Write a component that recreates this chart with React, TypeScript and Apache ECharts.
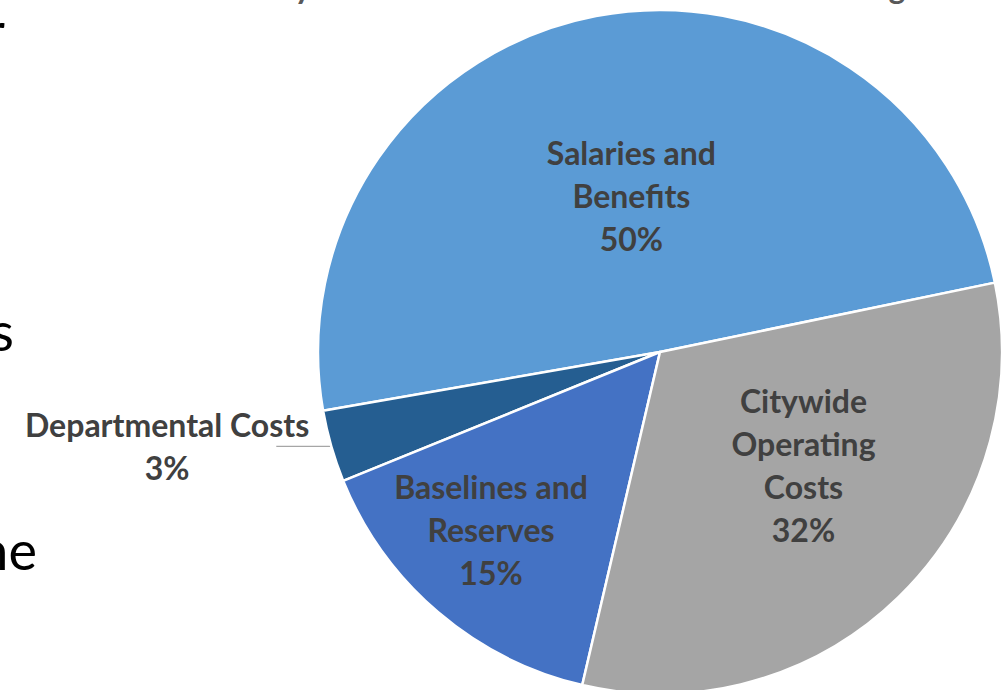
import React, { useEffect, useRef } from 'react';
import * as echarts from 'echarts';

// Slices, in counter-clockwise order starting at the right-hand boundary
const categories = ['Salaries and\nBenefits', 'Departmental Costs', 'Baselines and\nReserves', 'Citywide\nOperating\nCosts'];
const values = [49.5, 3.4, 15.2, 31.9];
const sliceColors = ['#5B9BD5', '#255E91', '#4472C4', '#A5A5A5'];

// Fragments of the slide text around the chart (cut off by the crop)
const sideTexts = ['r', 's', 'ne'];
const titleFragments = ['y', 'g'];

const LABEL_FONT = 'Lato, "Open Sans", "Noto Sans", sans-serif';

export default function App() {
  const ref = useRef<HTMLDivElement>(null);

  useEffect(() => {
    document.body.style.margin = '0';
    const chart = echarts.init(ref.current!, null, { renderer: 'svg' });

    const labelShift: Record<number, [number, number]> = {
      0: [4, 14],
      2: [-56, 45],
      3: [22, -12],
    };

    const data = categories.map((name, i) => {
      const item: any = {
        name,
        value: values[i],
        itemStyle: { color: sliceColors[i] },
      };
      if (i === 1) {
        item.label = {
          position: 'outside',
          formatter: '{dep|Departmental Costs}\n{dep|{d}%}',
          distanceToLabelLine: -33,
          rich: {
            dep: {
              align: 'center',
              fontFamily: LABEL_FONT,
              fontWeight: 'bold',
              fontSize: 32,
              lineHeight: 43,
              color: '#404040',
            },
          },
        };
        item.labelLine = {
          show: true,
          length: 0,
          length2: 55,
          smooth: false,
          lineStyle: { color: '#A6A6A6', width: 1.2 },
        };
      }
      return item;
    });

    const side = [
      { text: sideTexts[0], x: 5, y: 30 },
      { text: sideTexts[1], x: 14, y: 330 },
      { text: sideTexts[2], x: 37, y: 549 },
    ];
    const tops = [
      { text: titleFragments[0], x: 303, y: -14 },
      { text: titleFragments[1], x: 897, y: -14 },
    ];

    chart.setOption({
      animation: false,
      backgroundColor: '#FFFFFF',
      graphic: [
        ...side.map((s) => ({
          type: 'text',
          x: s.x,
          y: s.y,
          silent: true,
          style: {
            text: s.text,
            fill: '#000000',
            font: '54px ' + LABEL_FONT,
            textAlign: 'right',
            textVerticalAlign: 'middle',
          },
        })),
        ...tops.map((s) => ({
          type: 'text',
          x: s.x,
          y: s.y,
          silent: true,
          style: {
            text: s.text,
            fill: '#595959',
            font: 'bold 32px ' + LABEL_FONT,
            textAlign: 'center',
            textVerticalAlign: 'middle',
          },
        })),
      ],
      series: [
        {
          type: 'pie',
          center: [660, 352],
          radius: 342,
          startAngle: 11.7,
          clockwise: false,
          avoidLabelOverlap: false,
          percentPrecision: 0,
          itemStyle: { borderColor: '#FFFFFF', borderWidth: 2.5 },
          label: {
            show: true,
            position: 'inside',
            formatter: '{b}\n{d}%',
            fontFamily: LABEL_FONT,
            fontWeight: 'bold',
            fontSize: 32,
            lineHeight: 43,
            color: '#404040',
            align: 'center',
          },
          labelLine: { show: false },
          labelLayout: (params: any) => {
            const o = labelShift[params.dataIndex];
            return o ? { dx: o[0], dy: o[1] } : {};
          },
          emphasis: { disabled: true },
          data,
        },
      ],
    });

    return () => chart.dispose();
  }, []);

  return (
    <div
      ref={ref}
      style={{ position: 'fixed', left: 0, top: 0, width: 1005, height: 690 }}
    />
  );
}
